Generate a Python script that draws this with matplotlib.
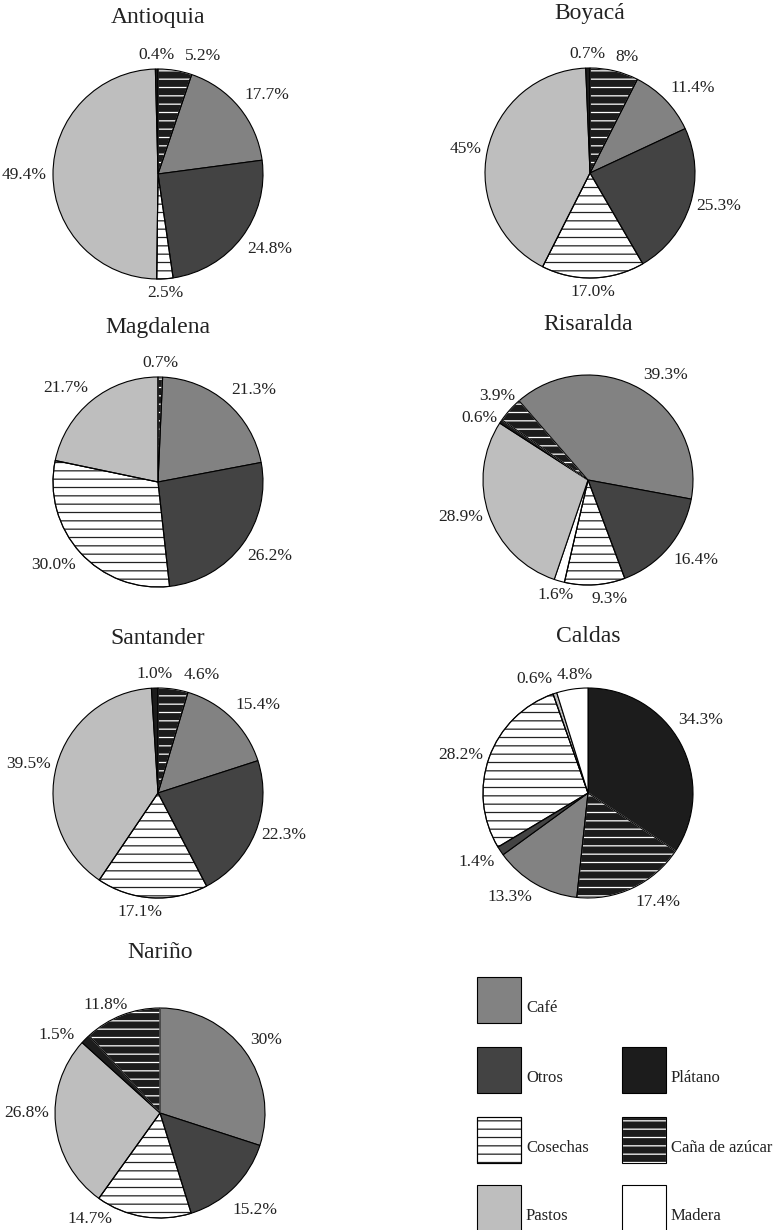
import matplotlib
matplotlib.use('Agg')
import matplotlib.pyplot as plt
from matplotlib.patches import Wedge, Rectangle
import numpy as np

plt.rcParams['font.family'] = ['Liberation Serif', 'DejaVu Serif']
plt.rcParams['hatch.linewidth'] = 0.9

# ---------------- data ----------------
categories = ['Café', 'Otros', 'Plátano', 'Cosechas', 'Caña de azúcar', 'Pastos', 'Madera']

titles = ['Antioquia', 'Boyacá', 'Magdalena', 'Risaralda', 'Santander', 'Caldas', 'Nariño']

antioquia_cats = ['Caña de azúcar', 'Café', 'Otros', 'Cosechas', 'Pastos', 'Plátano']
antioquia_vals = [5.2, 17.7, 24.8, 2.5, 49.4, 0.4]
antioquia_labels = ['5.2%', '17.7%', '24.8%', '2.5%', '49.4%', '0.4%']

boyaca_cats = ['Caña de azúcar', 'Café', 'Otros', 'Cosechas', 'Pastos', 'Plátano']
boyaca_vals = [8, 11.4, 25.3, 17.0, 45, 0.7]
boyaca_labels = ['8%', '11.4%', '25.3%', '17.0%', '45%', '0.7%']

magdalena_cats = ['Caña de azúcar', 'Café', 'Otros', 'Cosechas', 'Pastos']
magdalena_vals = [0.7, 21.3, 26.2, 30.0, 21.7]
magdalena_labels = ['0.7%', '21.3%', '26.2%', '30.0%', '21.7%']

risaralda_cats = ['Café', 'Otros', 'Cosechas', 'Madera', 'Pastos', 'Plátano', 'Caña de azúcar']
risaralda_vals = [39.3, 16.4, 9.3, 1.6, 28.9, 0.6, 3.9]
risaralda_labels = ['39.3%', '16.4%', '9.3%', '1.6%', '28.9%', '0.6%', '3.9%']

santander_cats = ['Caña de azúcar', 'Café', 'Otros', 'Cosechas', 'Pastos', 'Plátano']
santander_vals = [4.6, 15.4, 22.3, 17.1, 39.5, 1.0]
santander_labels = ['4.6%', '15.4%', '22.3%', '17.1%', '39.5%', '1.0%']

caldas_cats = ['Plátano', 'Caña de azúcar', 'Café', 'Otros', 'Cosechas', 'Pastos', 'Madera']
caldas_vals = [34.3, 17.4, 13.3, 1.4, 28.2, 0.6, 4.8]
caldas_labels = ['34.3%', '17.4%', '13.3%', '1.4%', '28.2%', '0.6%', '4.8%']

narino_cats = ['Café', 'Otros', 'Cosechas', 'Pastos', 'Plátano', 'Caña de azúcar']
narino_vals = [30, 15.2, 14.7, 26.8, 1.5, 11.8]
narino_labels = ['30%', '15.2%', '14.7%', '26.8%', '1.5%', '11.8%']

pies_cats = [antioquia_cats, boyaca_cats, magdalena_cats, risaralda_cats,
             santander_cats, caldas_cats, narino_cats]
pies_vals = [antioquia_vals, boyaca_vals, magdalena_vals, risaralda_vals,
             santander_vals, caldas_vals, narino_vals]
pies_labels = [antioquia_labels, boyaca_labels, magdalena_labels, risaralda_labels,
               santander_labels, caldas_labels, narino_labels]

# ---------------- layout / style ----------------
W, H = 779, 1230
centers = [(158, 174), (590, 173), (158, 482), (588, 480),
           (158, 793), (588, 793), (160, 1113)]
radius = 105
start_angles = [90, 90, 90, 131, 90, 90, 90]
title_offsets = [52, 54, 49, 50, 50, 51, 56]

styles = {
    'Café':           dict(fc='#828282', hatch=None, hc=None),
    'Otros':          dict(fc='#434343', hatch=None, hc=None),
    'Plátano':        dict(fc='#1c1c1c', hatch=None, hc=None),
    'Cosechas':       dict(fc='#ffffff', hatch='--', hc='#222222'),
    'Caña de azúcar': dict(fc='#1c1c1c', hatch='--', hc='#ffffff'),
    'Pastos':         dict(fc='#bebebe', hatch=None, hc=None),
    'Madera':         dict(fc='#ffffff', hatch=None, hc=None),
}

legend_slots = {'Café': (0, 0), 'Otros': (1, 0), 'Plátano': (1, 1),
                'Cosechas': (2, 0), 'Caña de azúcar': (2, 1),
                'Pastos': (3, 0), 'Madera': (3, 1)}

# label nudges in pixels (dx right, dy downward), keyed by (pie, slice)
label_nudge = {(0, 0): (9, 0), (4, 0): (10, 0), (4, 3): (-12, 0),
               (5, 6): (22, 0), (5, 0): (-8, -20),
               (3, 2): (14, 0), (3, 3): (16, 0), (3, 5): (2, 8), (3, 6): (10, -2),
               (6, 4): (-6, 8), (6, 3): (0, -12), (6, 2): (-30, -12), (6, 5): (8, 4),
               (6, 1): (-6, 10)}

fig = plt.figure(figsize=(W / 100, H / 100), dpi=100)
fig.patch.set_facecolor('white')
ax = fig.add_axes([0, 0, 1, 1])


def apply_style(patch, cat):
    st = styles[cat]
    patch.set_facecolor(st['fc'])
    patch.set_linewidth(0.8)
    if st['hatch']:
        patch.set_hatch(st['hatch'])
        patch.set_edgecolor(st['hc'])
    else:
        patch.set_edgecolor('black')


for i, (title, cats, vals, labels) in enumerate(zip(titles, pies_cats, pies_vals, pies_labels)):
    cx, cy = centers[i]
    cyd = H - cy
    wedges, _ = ax.pie(vals, startangle=start_angles[i], counterclock=False,
                       center=(cx, cyd), radius=radius, normalize=True,
                       wedgeprops=dict(linewidth=0.8, edgecolor='black'))
    for j, (w, cat, lab) in enumerate(zip(wedges, cats, labels)):
        apply_style(w, cat)
        if styles[cat]['hatch']:
            ax.add_patch(Wedge((cx, cyd), radius, w.theta1, w.theta2,
                               fill=False, edgecolor='black', linewidth=0.8))
        mid = np.deg2rad((w.theta1 + w.theta2) / 2)
        dx, dy = np.cos(mid), np.sin(mid)
        px = cx + 1.06 * radius * dx
        py = cyd + 1.06 * radius * dy
        ha = 'left' if dx > 0.1 else ('right' if dx < -0.1 else 'center')
        va = 'bottom' if dy > 0.5 else ('top' if dy < -0.5 else 'center')
        nx, ny = label_nudge.get((i, j), (0, 0))
        ax.text(px + nx, py - ny, lab, ha=ha, va=va, fontsize=12.5, color='#222222')
    ax.text(cx, cyd + radius + title_offsets[i], title, ha='center', va='center',
            fontsize=17, color='#222222')

# legend
col_x = [477, 622]
row_y = [977, 1047, 1117, 1185]
sq_w, sq_h = 44, 46
for cat in categories:
    r_, c_ = legend_slots[cat]
    x0 = col_x[c_]
    ytop = row_y[r_]
    rect = Rectangle((x0, H - ytop - sq_h), sq_w, sq_h, linewidth=0.8)
    ax.add_patch(rect)
    apply_style(rect, cat)
    if styles[cat]['hatch']:
        ax.add_patch(Rectangle((x0, H - ytop - sq_h), sq_w, sq_h, fill=False,
                               edgecolor='black', linewidth=0.8))
    ax.text(x0 + sq_w + 5, H - (ytop + sq_h / 2 + 8), cat, ha='left', va='center',
            fontsize=12, color='#222222')

ax.set_xlim(0, W)
ax.set_ylim(0, H)
ax.set_aspect('equal')
ax.axis('off')

fig.savefig('out.png', dpi=100, facecolor='white')
